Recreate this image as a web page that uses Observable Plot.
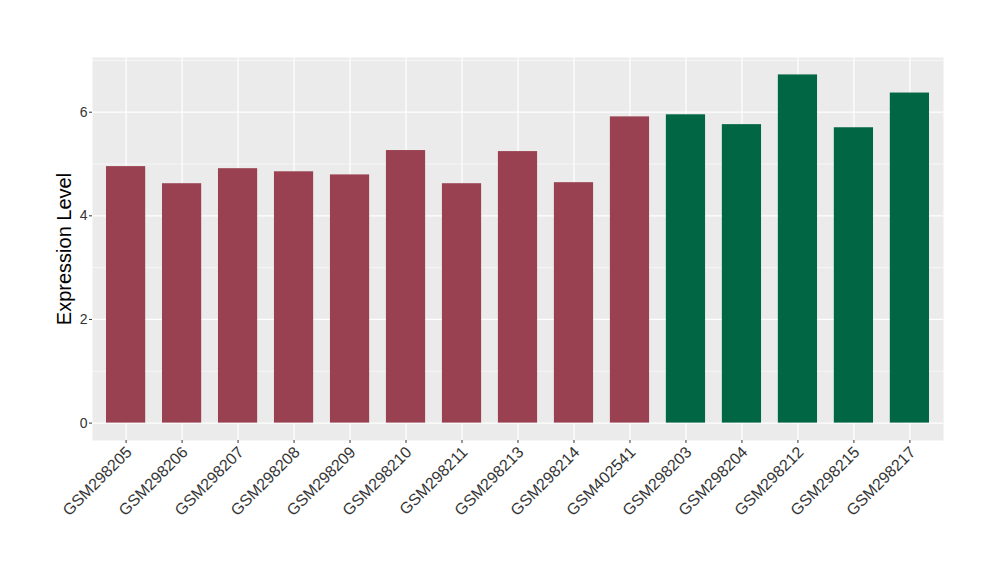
<!DOCTYPE html>
<html>
<head>
<meta charset="utf-8">
<script src="https://cdn.jsdelivr.net/npm/d3@7"></script>
<script src="https://cdn.jsdelivr.net/npm/@observablehq/plot@0.6"></script>
<style>
  html, body { margin: 0; padding: 0; background: #fff; }
  #chart svg { font-family: "Liberation Sans", Arial, sans-serif; }
  #chart [aria-label="y-axis label"] text { font-size: 20px; fill: #000; }
</style>
</head>
<body>
<div id="chart"></div>
<script>
const samples = ["GSM298205","GSM298206","GSM298207","GSM298208","GSM298209","GSM298210","GSM298211","GSM298213","GSM298214","GSM402541","GSM298203","GSM298204","GSM298212","GSM298215","GSM298217"];
const values  = [4.95, 4.62, 4.91, 4.85, 4.79, 5.26, 4.62, 5.24, 4.64, 5.91, 5.95, 5.76, 6.72, 5.70, 6.37];
const groups  = ["A","A","A","A","A","A","A","A","A","A","B","B","B","B","B"];
const majorTicks = [0, 2, 4, 6];
const minorTicks = [1, 3, 5, 7];

const data = samples.map((s, i) => ({sample: s, value: values[i], group: groups[i]}));
const ymax = d3.max(values);
const pad = ymax * 0.05;

const chart = Plot.plot({
  width: 1000,
  height: 580,
  marginLeft: 92,
  marginRight: 57,
  marginTop: 57,
  marginBottom: 140,
  x: {domain: samples, paddingInner: 0.3, paddingOuter: 0.25, round: false, label: null},
  y: {domain: [-pad, ymax + pad], label: "Expression Level"},
  color: {domain: ["A","B"], range: ["#994150", "#006644"]},
  marks: [
    Plot.frame({fill: "#EBEBEB", stroke: null}),
    Plot.gridY(minorTicks, {stroke: "#fff", strokeOpacity: 1, strokeWidth: 0.6}),
    Plot.gridY(majorTicks, {stroke: "#fff", strokeOpacity: 1, strokeWidth: 1.2}),
    Plot.gridX({stroke: "#fff", strokeOpacity: 1, strokeWidth: 1.2}),
    Plot.barY(data, {x: "sample", y: "value", fill: "group"}),
    Plot.axisY(majorTicks, {tickSize: 3, tickPadding: 2, fontSize: 14, color: "#333", tickFormat: d3.format("d"), label: "Expression Level", labelAnchor: "center", labelArrow: "none", labelOffset: 36}),
    Plot.axisX({tickSize: 3, color: "#333", tickFormat: () => "", label: null}),
    Plot.axisX({tickSize: 0, tickPadding: 6, fontSize: 16, color: "#333", tickRotate: -45, dx: 3, dy: 3, label: null})
  ]
});
document.getElementById("chart").appendChild(chart);
</script>
</body>
</html>
